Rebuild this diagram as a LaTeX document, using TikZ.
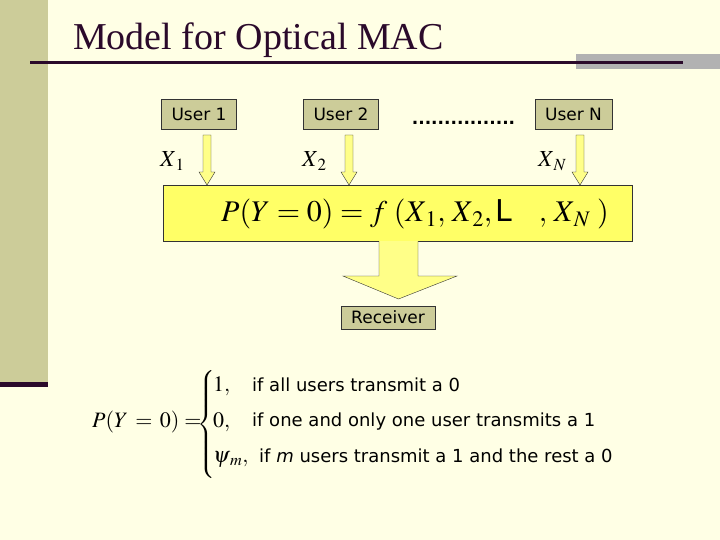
\documentclass[tikz,border=0pt]{standalone}
\usepackage{amsmath}
\usepackage{mathptmx}
\usepackage[no-math]{fontspec}
\newfontfamily\titlefont{Liberation Serif}
\newfontfamily\uifont{DejaVu Sans}
\usetikzlibrary{positioning, calc}

\definecolor{slidebg}{HTML}{FFFFE5}
\definecolor{band}{HTML}{CCCC99}
\definecolor{ink}{HTML}{2B0A2B}
\definecolor{boxyellow}{HTML}{FFFF66}
\definecolor{arrowyellow}{HTML}{FFFF88}

\begin{document}
\begin{tikzpicture}[
    x=1pt, y=-1pt,
    userbox/.style={draw=black!80, fill=band, font=\uifont\fontsize{17}{20}\selectfont, inner sep=0pt, minimum width=75pt, minimum height=30pt},
    block/.style={draw=black!80, fill=arrowyellow, line join=miter},
    label/.style={anchor=base west, inner sep=0pt, font=\fontsize{23}{27}\selectfont},
    mathrow/.style={anchor=base west, inner sep=0pt, font=\fontsize{22}{26}\selectfont},
    rowtext/.style={anchor=base west, inner sep=0pt, font=\uifont\fontsize{18}{22}\selectfont}
]

% Slide background, fixes the bounding box
\fill[slidebg] (0,0) rectangle (720,540);

% Left band and title rule
\fill[band] (0,0) rectangle (48,382);
\fill[ink] (0,382) rectangle (48,387);
\fill[black!30] (576,54) rectangle (720,69);
\draw[ink, line width=3pt] (30,63) -- (683,63);

% Title
\node[anchor=base west, inner sep=0pt, text=ink, font=\titlefont\fontsize{38}{44}\selectfont] (title) at (73,50) {Model for Optical MAC};

% Users
\node[userbox] (u1) at (199,114) {User 1};
\node[userbox] (u2) at (341,114) {User 2};
\node[userbox, minimum width=77pt] (un) at (573.5,114) {User N};
\node[anchor=base, inner sep=0pt, font=\uifont\bfseries\fontsize{17}{20}\selectfont] (dots) at (463.5,125) {................};

% Channel box
\node[draw=black!80, fill=boxyellow, inner sep=0pt, minimum width=469pt, minimum height=56pt] (mac) at (397.5,213) {};
\node[anchor=base west, inner sep=0pt, font=\fontsize{30}{34}\selectfont] (law) at (221,222)
    {$P(Y=0)=f\,\,(X_{\,1},\,X_{\,2},\mbox{\uifont L}\;\;\;\;,\,X_{\,N}\;)$};

% Small block arrows from users into the box
\foreach \x in {207,349,580}
    \draw[block] (\x-4,135) -- (\x+4,135) -- (\x+4,172) -- (\x+8,172) -- (\x,185)
        -- (\x-8,172) -- (\x-4,172) -- cycle;

% Inputs
\node[label] (x1) at (160,167) {$X_{\,1}$};
\node[label] (x2) at (302,167) {$X_{\,2}$};
\node[label] (xn) at (538,167) {$X_{\,N}$};

% Big block arrow down to the receiver
\coordinate (sl) at ($(mac.south)+(-18.5,0)$);
\coordinate (sr) at ($(mac.south)+(20.5,0)$);
\fill[arrowyellow] (sl) -- (379,276) -- (343,276) -- (398.5,299) -- (457,276)
    -- (418,276) -- (sr) -- cycle;
\draw[black!80, line join=miter] (sl) -- (379,276) -- (343,276) -- (398.5,299)
    -- (457,276) -- (418,276) -- (sr);

\node[userbox, minimum width=94pt, minimum height=23pt] (rx) at (388,317.5) {Receiver};

% Cases
\node[mathrow] (lhs) at (92,427) {$P(Y\,=\,0)=$};
\node[anchor=west, inner sep=0pt, font=\fontsize{20}{24}\selectfont] (brace) at (197,424)
    {$\nulldelimiterspace=0pt\left\{\vrule height 48pt depth 48pt width 0pt\right.$};
\node[mathrow] (v1) at (213,391) {$1,$};
\node[mathrow] (v2) at (213,427) {$0,$};
\node[mathrow] (v3) at (213,462) {$\psi_{\,m},$};
\node[rowtext] (t1) at (252,391) {if all users transmit a 0};
\node[rowtext] (t2) at (252,426) {if one and only one user transmits a 1};
\node[rowtext] (t3) at (259,462) {if \textit{m} users transmit a 1 and the rest a 0};

\end{tikzpicture}
\end{document}
